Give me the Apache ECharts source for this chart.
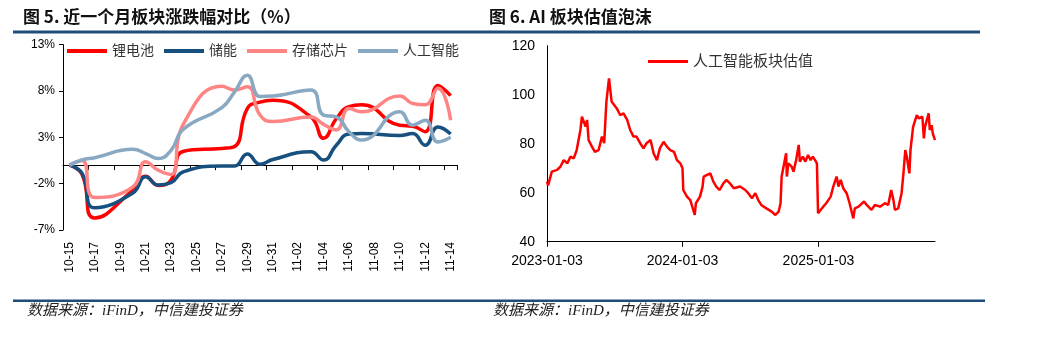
<!DOCTYPE html>
<html><head><meta charset="utf-8">
<script src="https://cdn.jsdelivr.net/npm/echarts@6/dist/echarts.min.js"></script>
<style>html,body{margin:0;padding:0;background:#fff}#c{width:1039px;height:342px}</style>
</head><body><div id="c"></div>
<script>
// ---- Chart 5: sector change over the last month (%) ----
const days = ['10-15','10-16','10-17','10-18','10-19','10-20','10-21','10-22','10-23','10-24','10-25','10-26','10-27','10-28','10-29','10-30','10-31','11-01','11-02','11-03','11-04','11-05','11-06','11-07','11-08','11-09','11-10','11-11','11-12','11-13','11-14'];
const tradeDays = ['10-15','10-16','10-17','10-20','10-21','10-22','10-23','10-24','10-27','10-28','10-29','10-30','10-31','11-03','11-04','11-05','11-06','11-07','11-10','11-11','11-12','11-13','11-14'];
const lithium = [0,-1.0,-5.7,-2.7,-1.2,-2.2,-1.6,1.5,1.8,2.0,6.1,6.8,7.0,5.2,2.9,5.0,6.3,6.5,4.3,4.2,3.6,8.6,7.5];
const storage = [0,-0.9,-4.6,-3.0,-1.25,-2.15,-1.9,-0.7,-0.1,-0.1,1.2,0.1,0.6,1.45,0.55,2.15,3.35,3.4,3.2,3.4,2.15,4.1,3.35];
const chips   = [0,0.5,-3.5,-2.35,0.35,-0.55,-1.0,4.5,8.5,8.1,8.45,5.4,4.7,5.2,4.4,3.8,6.1,5.75,7.45,6.65,6.5,8.3,4.85];
const aiSect  = [0,0.55,0.8,1.7,1.25,0.7,1.6,3.9,6.2,7.9,9.7,7.4,7.45,8.1,5.4,5.2,3.6,2.7,5.75,4.3,4.85,2.5,3.0];
const pctTicks = [-7,-2,3,8,13];

// ---- Chart 6: AI sector valuation ----
const valDates = ['2023-01-03','2023-01-06','2023-01-16','2023-01-30','2023-02-08','2023-02-17','2023-02-27','2023-03-07','2023-03-16','2023-03-24','2023-04-03','2023-04-07','2023-04-12','2023-04-17','2023-04-21','2023-04-25','2023-05-04','2023-05-12','2023-05-22','2023-05-31','2023-06-06','2023-06-12','2023-06-19','2023-06-26','2023-07-03','2023-07-10','2023-07-19','2023-07-28','2023-08-07','2023-08-15','2023-08-24','2023-09-01','2023-09-11','2023-09-20','2023-09-28','2023-10-09','2023-10-17','2023-10-26','2023-11-03','2023-11-13','2023-11-22','2023-12-01','2023-12-11','2023-12-19','2023-12-28','2024-01-03','2024-01-05','2024-01-15','2024-01-24','2024-02-05','2024-02-08','2024-02-19','2024-02-26','2024-02-29','2024-03-08','2024-03-18','2024-03-26','2024-04-03','2024-04-12','2024-04-22','2024-04-30','2024-05-10','2024-05-20','2024-06-06','2024-06-11','2024-06-20','2024-06-28','2024-07-08','2024-07-17','2024-07-25','2024-08-02','2024-08-16','2024-08-30','2024-09-09','2024-09-18','2024-09-23','2024-09-26','2024-10-08','2024-10-10','2024-10-14','2024-10-23','2024-10-28','2024-11-04','2024-11-11','2024-11-14','2024-11-22','2024-11-29','2024-12-06','2024-12-13','2024-12-19','2024-12-25','2024-12-30','2025-01-02','2025-01-07','2025-01-16','2025-01-24','2025-02-05','2025-02-12','2025-02-21','2025-02-26','2025-03-04','2025-03-11','2025-03-20','2025-03-28','2025-04-07','2025-04-11','2025-04-21','2025-05-06','2025-05-13','2025-05-26','2025-06-04','2025-06-18','2025-07-01','2025-07-10','2025-07-18','2025-07-24','2025-07-28','2025-08-06','2025-08-15','2025-08-20','2025-08-25','2025-08-29','2025-09-05','2025-09-08','2025-09-15','2025-09-19','2025-09-25','2025-09-30','2025-10-10','2025-10-14','2025-10-17','2025-10-27','2025-10-30','2025-11-04','2025-11-07','2025-11-13'];
const valValues = [64.5,63.0,68.6,69.3,70.6,73.3,72.0,74.7,74.0,77.4,85.6,91.0,91.7,87.0,89.7,81.5,78.8,76.7,77.4,82.9,80.2,97.2,106.7,97.2,95.8,94.4,91.7,92.4,89.7,85.6,82.9,82.9,80.2,78.1,80.2,81.5,76.1,73.3,78.1,80.8,78.8,77.4,76.7,73.3,72.0,70.0,61.1,58.4,57.0,50.9,55.7,58.4,62.5,66.6,67.2,67.9,64.5,62.5,61.1,63.8,65.2,63.8,61.8,62.5,63.2,61.1,59.8,57.7,59.8,57.0,55.0,53.6,52.3,50.9,52.3,55.7,66.6,76.1,66.6,72.0,70.6,68.6,73.3,79.5,72.7,74.7,72.7,75.4,73.3,74.7,73.3,72.0,51.6,52.3,54.3,55.7,58.4,62.5,66.6,62.5,65.2,61.8,59.8,55.7,49.5,53.6,54.3,56.4,55.0,53.0,55.0,54.3,55.7,55.0,61.1,57.0,53.0,53.6,59.8,67.9,77.4,74.7,67.9,77.4,86.9,87.6,91.7,90.3,91.0,82.2,86.9,92.4,85.6,87.6,84.2,81.5];
const dateTicks = ['2023-01-03','2024-01-03','2025-01-03'];
const valStart = '2023-01-03', valEnd = '2025-11-13';

const COL = {red:'#FF0000', navy:'#17507E', pink:'#FF8585', gray:'#89A8C1', rule:'#1E4C7C'};
const FONT = '"Liberation Sans","Noto Sans CJK SC",sans-serif';
const pair = (xs, ys) => xs.map((x, i) => [x, ys[i]]);
// day offset of a date from the start of the valuation axis
const t0 = +echarts.time.parse(valStart);
const dayOf = d => Math.round((+echarts.time.parse(d) - t0) / 86400000);
const tickDays = dateTicks.map(dayOf);

const chart = echarts.init(document.getElementById('c'));
const lineSeries = (name, vals, color) => ({
  name, type:'line', xAxisIndex:0, yAxisIndex:0, data: pair(tradeDays, vals),
  smooth:0.5, showSymbol:false, symbol:'none', color,
  lineStyle:{width:3.5, color}
});

chart.setOption({
  animation:false,
  textStyle:{fontFamily:FONT},
  grid:[
    {left:63, top:44.6, width:394, height:185.4},
    {left:547, top:45.7, width:388, height:196}
  ],
  legend:[
    {data:['锂电池','储能','存储芯片','人工智能'], left:62, top:39, icon:'rect', itemWidth:40, itemHeight:4, itemGap:10,
     textStyle:{fontSize:14, color:'#333', fontFamily:FONT}},
    {data:['人工智能板块估值'], left:643, top:49, icon:'rect', itemWidth:40, itemHeight:3,
     textStyle:{fontSize:15, color:'#333', fontFamily:FONT}}
  ],
  xAxis:[
    {gridIndex:0, type:'category', data:days, boundaryGap:true, position:'bottom',
     axisLine:{onZero:true, lineStyle:{color:'#000', width:1}},
     axisTick:{show:true, interval:1, length:5, lineStyle:{color:'#000'}},
     axisLabel:{show:false}, splitLine:{show:false}},
    {gridIndex:0, type:'category', data:days, boundaryGap:true, position:'bottom',
     axisLine:{show:false, onZero:false}, axisTick:{show:false},
     axisLabel:{interval:1, rotate:90, fontSize:12, color:'#000', margin:12, fontFamily:FONT}, splitLine:{show:false}},
    {gridIndex:1, type:'value', min:0, max:dayOf(valEnd),
     axisLine:{onZero:false, lineStyle:{color:'#000', width:1}},
     axisTick:{show:true, length:5, customValues:tickDays, lineStyle:{color:'#000'}},
     axisLabel:{customValues:tickDays, fontSize:14, color:'#000', margin:12, fontFamily:FONT,
       formatter:(v)=>{ const i = tickDays.indexOf(Math.round(v)); return i>=0 ? dateTicks[i] : ''; }},
     splitLine:{show:false}}
  ],
  yAxis:[
    {gridIndex:0, type:'value', min:-7, max:13,
     axisLine:{show:true, onZero:false, lineStyle:{color:'#000', width:1}},
     axisTick:{show:true, length:4, customValues:pctTicks, lineStyle:{color:'#000'}},
     axisLabel:{customValues:pctTicks, formatter:'{value}%', fontSize:12, color:'#000', margin:8, fontFamily:FONT},
     splitLine:{show:false}},
    {gridIndex:1, type:'value', min:40, max:120, interval:20,
     axisLine:{show:true, onZero:false, lineStyle:{color:'#000', width:1}},
     axisTick:{show:false},
     axisLabel:{fontSize:14, color:'#000', margin:12, fontFamily:FONT},
     splitLine:{show:false}}
  ],
  series:[
    lineSeries('锂电池', lithium, COL.red),
    lineSeries('储能', storage, COL.navy),
    lineSeries('存储芯片', chips, COL.pink),
    lineSeries('人工智能', aiSect, COL.gray),
    {name:'人工智能板块估值', type:'line', xAxisIndex:2, yAxisIndex:1,
     data: valDates.map((d, i) => [dayOf(d), valValues[i]]),
     showSymbol:false, symbol:'none', color:COL.red, lineStyle:{width:2.5, color:COL.red}}
  ],
  graphic:[
    {type:'text', left:23, top:8, style:{text:'图 5. 近一个月板块涨跌幅对比（%）', font:'bold 17px "Noto Sans CJK SC",sans-serif', fill:'#111'}},
    {type:'text', left:489, top:8, style:{text:'图 6. AI 板块估值泡沫', font:'bold 17px "Noto Sans CJK SC",sans-serif', fill:'#111'}},
    {type:'rect', shape:{x:13, y:30.5, width:967, height:3}, style:{fill:COL.rule}},
    {type:'rect', shape:{x:13, y:299.5, width:972, height:2.5}, style:{fill:COL.rule}},
    {type:'text', left:27, top:304, style:{text:'数据来源：iFinD，中信建投证券', font:'italic 15px "Liberation Serif","Noto Sans CJK SC",serif', fill:'#222'}},
    {type:'text', left:493, top:304, style:{text:'数据来源：iFinD，中信建投证券', font:'italic 15px "Liberation Serif","Noto Sans CJK SC",serif', fill:'#222'}}
  ]
});
</script>
</body></html>
